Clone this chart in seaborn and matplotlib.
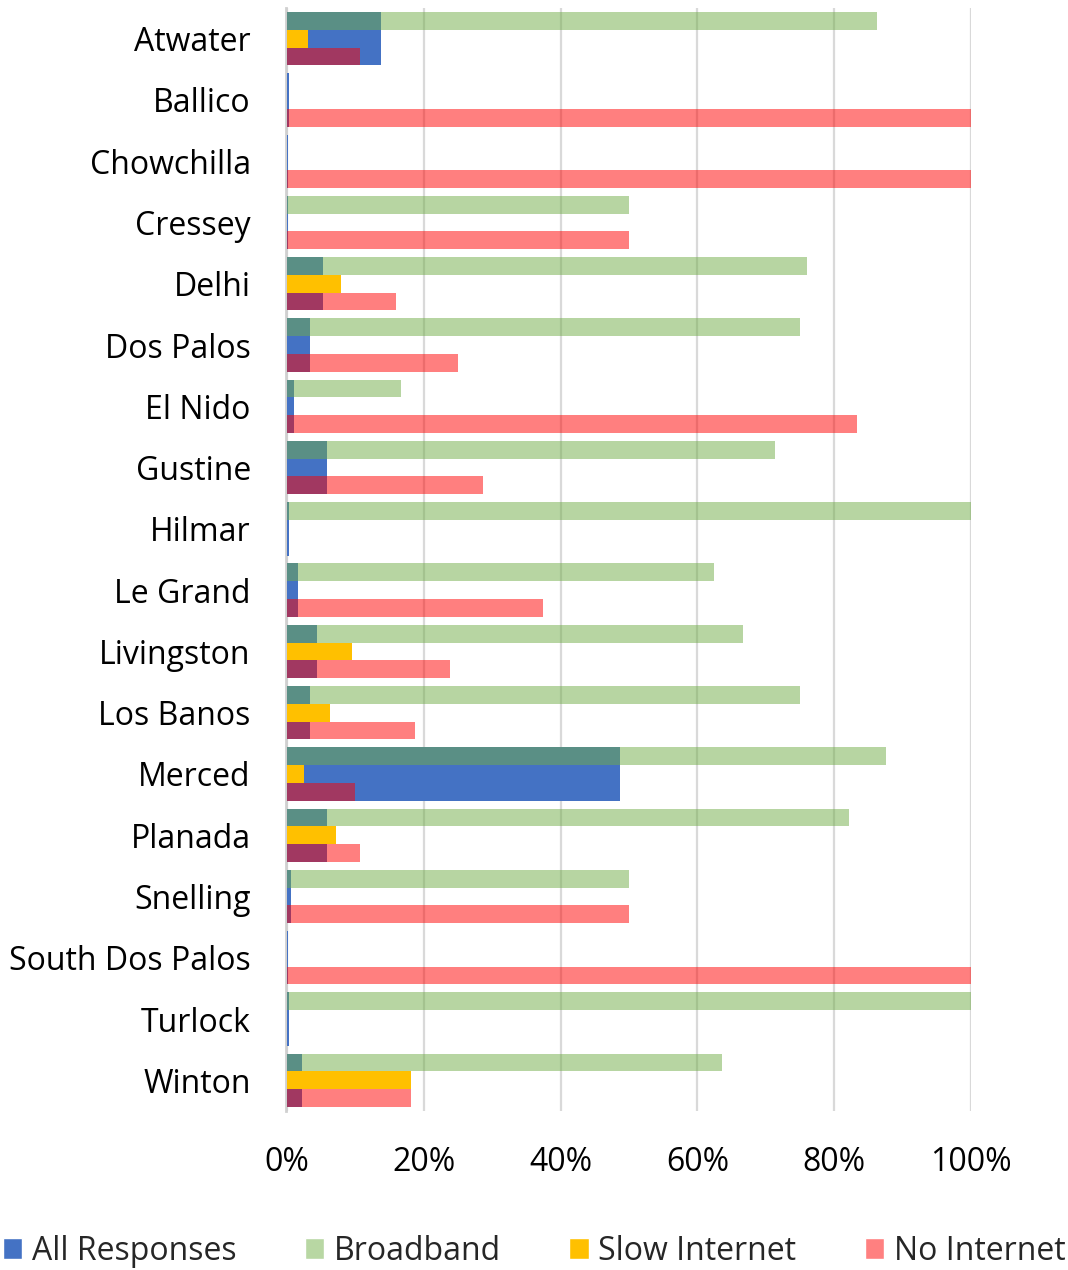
import numpy as np
import pandas as pd
import matplotlib
matplotlib.use("Agg")
import matplotlib.pyplot as plt
from matplotlib.patches import Patch
import seaborn as sns

# Share of responses per community (%)
cities = ["Atwater", "Ballico", "Chowchilla", "Cressey", "Delhi", "Dos Palos",
          "El Nido", "Gustine", "Hilmar", "Le Grand", "Livingston", "Los Banos",
          "Merced", "Planada", "Snelling", "South Dos Palos", "Turlock", "Winton"]
all_responses = [13.8, 0.3, 0.1, 0.2, 5.2, 3.3, 1.1, 5.8, 0.3, 1.6, 4.4, 3.3,
                 48.7, 5.8, 0.6, 0.1, 0.3, 2.2]
broadband = [86.2, 0, 0, 50.0, 76.0, 75.0, 16.7, 71.4, 100.0, 62.5, 66.7, 75.0,
             87.6, 82.2, 50.0, 0, 100.0, 63.6]
slow_internet = [3.1, 0, 0, 0, 7.9, 0, 0, 0, 0, 0, 9.5, 6.25,
                 2.5, 7.1, 0, 0, 0, 18.2]
no_internet = [10.7, 100.0, 100.0, 50.0, 16.0, 25.0, 83.3, 28.6, 0, 37.5, 23.8, 18.75,
               9.9, 10.7, 50.0, 100.0, 0, 18.2]

series_names = ["Broadband", "Slow Internet", "No Internet"]
base_colors = {"Broadband": "#70AD47", "Slow Internet": "#FFC000", "No Internet": "#FF0000"}
series_alpha = {"Broadband": 0.5, "Slow Internet": 1.0, "No Internet": 0.5}
blue = "#4472C4"

df_all = pd.DataFrame({"city": cities, "value": all_responses})
df_sub = pd.DataFrame({
    "city": cities * 3,
    "series": sum([[s] * len(cities) for s in series_names], []),
    "value": broadband + slow_internet + no_internet,
})

sns.set_theme(style="white")
plt.rcParams["font.family"] = ["Open Sans", "DejaVu Sans"]

fig = plt.figure(figsize=(10.68, 12.70), dpi=100)
ax = fig.add_axes([0.2687, 0.1252, 0.6404, 0.8685])

group_w = 0.87
sns.barplot(data=df_all, y="city", x="value", order=cities, color=blue,
            width=group_w, saturation=1, ax=ax, orient="h", errorbar=None, zorder=2)
n_blue = len(ax.patches)

sns.barplot(data=df_sub, y="city", x="value", hue="series", order=cities,
            hue_order=series_names, palette=base_colors, width=group_w,
            saturation=1, ax=ax, orient="h", errorbar=None, dodge=True,
            legend=False, zorder=3)

# colour the overlay rows with their transparency
sub_patches = ax.patches[n_blue:]
for i, p in enumerate(sub_patches):
    s = series_names[i // len(cities)]
    p.set_alpha(series_alpha[s])
    p.set_linewidth(0)
for p in ax.patches[:n_blue]:
    p.set_linewidth(0)

ax.set_xlim(0, 100)
ax.set_ylim(len(cities) - 0.5, -0.5)
ax.set_xticks([0, 20, 40, 60, 80, 100])
ax.set_xticklabels([f"{t}%" for t in [0, 20, 40, 60, 80, 100]])
ax.set_xlabel("")
ax.set_ylabel("")
ax.tick_params(axis="y", length=0, pad=25, labelsize=23, colors="black")
ax.tick_params(axis="x", length=0, pad=25, labelsize=23, colors="black")
ax.xaxis.grid(True, color="#D9D9D9", linewidth=1.6, zorder=0)
ax.set_axisbelow(True)
for side in ["top", "right", "bottom"]:
    ax.spines[side].set_visible(False)
ax.spines["left"].set_color("#D0D0D0")
ax.spines["left"].set_linewidth(2)
ax.spines["left"].set_zorder(1)
ax.spines["left"].set_position(("outward", 1))

handles = [Patch(facecolor=blue, label="All Responses"),
           Patch(facecolor="#B8D7A3", label="Broadband"),
           Patch(facecolor="#FFC000", label="Slow Internet"),
           Patch(facecolor="#FF8080", label="No Internet")]
fig.legend(handles=handles, loc="center", bbox_to_anchor=(0.5, 0.0148),
           ncol=4, frameon=False, fontsize=23, handlelength=0.6,
           handleheight=0.6, handletextpad=0.3, columnspacing=2.15,
           borderaxespad=0, borderpad=0)

fig.savefig("out.png", dpi=100)
